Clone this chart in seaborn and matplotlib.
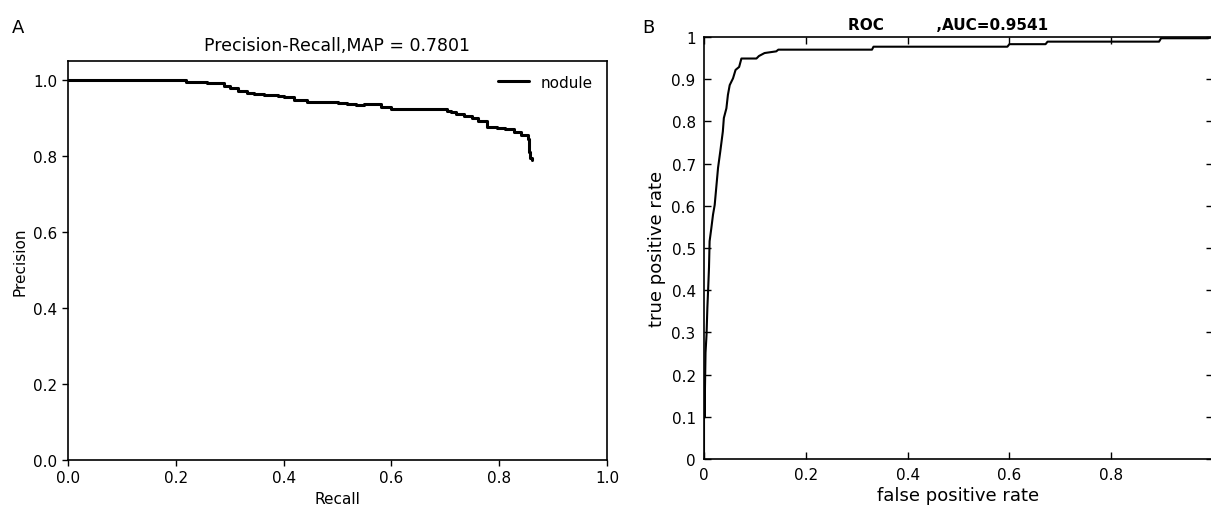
import matplotlib
matplotlib.use("Agg")
import matplotlib.pyplot as plt
import seaborn as sns
import pandas as pd
from matplotlib.ticker import FormatStrFormatter, MultipleLocator

# precision-recall curve
recall = [0.0, 0.218, 0.258, 0.29, 0.30, 0.315, 0.333, 0.345, 0.364, 0.39,
          0.40, 0.42, 0.444, 0.50, 0.518, 0.535, 0.549, 0.58, 0.60, 0.636,
          0.667, 0.704, 0.71, 0.72, 0.735, 0.75, 0.76, 0.778, 0.795, 0.81,
          0.828, 0.84, 0.853, 0.856, 0.858, 0.86]
precision = [1.0, 0.996, 0.991, 0.984, 0.978, 0.972, 0.967, 0.963, 0.96, 0.958,
             0.954, 0.947, 0.943, 0.94, 0.937, 0.934, 0.936, 0.93, 0.925, 0.923,
             0.924, 0.918, 0.915, 0.91, 0.906, 0.90, 0.893, 0.877, 0.874, 0.871,
             0.862, 0.855, 0.845, 0.81, 0.795, 0.79]

# ROC curve
fpr = [0.0, 0.0, 0.001, 0.003, 0.005, 0.0066, 0.008, 0.0098, 0.011, 0.0144,
       0.0177, 0.021, 0.0276, 0.032, 0.037, 0.039, 0.044, 0.047, 0.0505, 0.057,
       0.062, 0.069, 0.0735, 0.103, 0.108, 0.119, 0.142, 0.146, 0.33, 0.333,
       0.596, 0.60, 0.671, 0.675, 0.894, 0.898, 0.99, 1.0]
tpr = [0.0, 0.18, 0.098, 0.252, 0.295, 0.358, 0.398, 0.453, 0.516, 0.547,
       0.579, 0.602, 0.69, 0.729, 0.776, 0.808, 0.831, 0.863, 0.886, 0.902,
       0.922, 0.929, 0.949, 0.949, 0.955, 0.962, 0.966, 0.97, 0.97, 0.977,
       0.977, 0.983, 0.983, 0.989, 0.989, 0.997, 0.997, 1.0]

roc_xticks = [0, 0.2, 0.4, 0.6, 0.8, 1.0]
roc_xlabels = ["0", "0.2", "0.4", "0.6", "0.8", ""]  # the "1" falls off the crop

pr_df = pd.DataFrame({"Recall": recall, "Precision": precision})
roc_df = pd.DataFrame({"fpr": fpr, "tpr": tpr})

sns.set_style("white")
plt.rcParams["font.family"] = ["DejaVu Sans"]
plt.rcParams["text.color"] = "black"
plt.rcParams["axes.labelcolor"] = "black"

W, H = 1211, 506
fig = plt.figure(figsize=(W / 100, H / 100), dpi=100)

# panel A
ax1 = fig.add_axes([68 / W, 1 - 461 / H, (607 - 68) / W, (461 - 62) / H])
sns.lineplot(data=pr_df, x="Recall", y="Precision", ax=ax1, color="black",
             linewidth=2.2, drawstyle="steps-post", estimator=None, sort=False,
             label="nodule")
ax1.set_xlim(0.0, 1.0)
ax1.set_ylim(0.0, 1.05)
ax1.set_xticks([0.0, 0.2, 0.4, 0.6, 0.8, 1.0])
ax1.set_yticks([0.0, 0.2, 0.4, 0.6, 0.8, 1.0])
ax1.xaxis.set_major_formatter(FormatStrFormatter("%.1f"))
ax1.yaxis.set_major_formatter(FormatStrFormatter("%.1f"))
ax1.tick_params(direction="out", length=4, width=1, labelsize=11,
                bottom=True, left=True, colors="black")
ax1.set_xlabel("Recall", fontsize=11)
ax1.set_ylabel("Precision", fontsize=11)
ax1.set_title("Precision-Recall,MAP = 0.7801", fontsize=12.5, pad=8)
for s in ax1.spines.values():
    s.set_color("black")
    s.set_linewidth(1.2)
ax1.legend(loc="upper right", frameon=False, fontsize=11, handlelength=2.0)

# panel B
ax2 = fig.add_axes([704 / W, 1 - 460 / H, (1213 - 704) / W, (460 - 38) / H])
sns.lineplot(data=roc_df, x="fpr", y="tpr", ax=ax2, color="black",
             linewidth=1.5, estimator=None, sort=False)
ax2.set_xlim(0, 1)
ax2.set_ylim(0, 1)
ax2.set_xticks(roc_xticks)
ax2.set_xticklabels(roc_xlabels)
ax2.yaxis.set_major_locator(MultipleLocator(0.1))
ax2.yaxis.set_major_formatter(FormatStrFormatter("%g"))
ax2.tick_params(direction="in", length=5, width=1, labelsize=11, pad=6,
                top=True, right=True, bottom=True, left=True, colors="black")
ax2.set_xlabel("false positive rate", fontsize=13, labelpad=3)
ax2.set_ylabel("true positive rate", fontsize=13)
ax2.set_title("ROC          ,AUC=0.9541", fontsize=11, fontweight="bold",
              pad=6, x=0.48)
for s in ax2.spines.values():
    s.set_color("black")
    s.set_linewidth(1.2)

fig.text(12 / W, 1 - 28 / H, "A", fontsize=13, va="center", ha="left")
fig.text(642 / W, 1 - 28 / H, "B", fontsize=13, va="center", ha="left")

fig.savefig("out.png", dpi=100, facecolor="white")
